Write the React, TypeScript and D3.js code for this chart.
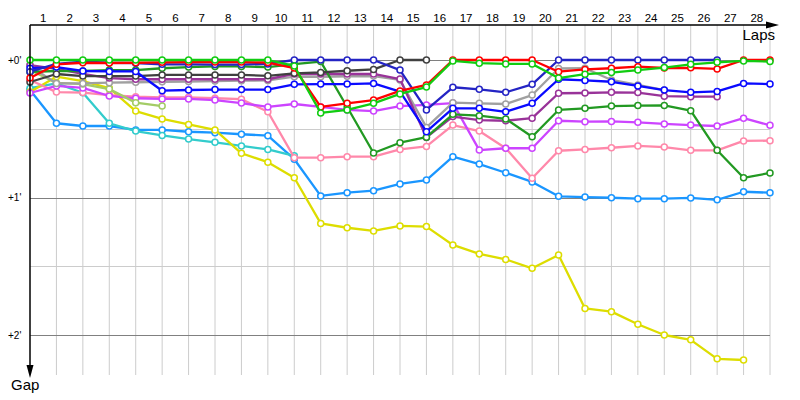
import React from 'react';
import * as d3 from 'd3';

// Lap tick labels (top axis)
const lapLabels = [1, 2, 3, 4, 5, 6, 7, 8, 9, 10, 11, 12, 13, 14, 15, 16, 17, 18, 19, 20, 21, 22, 23, 24, 25, 26, 27, 28];
// Gap axis ticks (minutes)
const gapTickMinutes = [0, 1, 2];
const gapTickLabels = ["+0'", "+1'", "+2'"];
// Horizontal grid lines (seconds)
const gridSeconds = [0, 30, 60, 90, 120];

// Gap to leader in seconds, index = lap (0 = start)
const azureGaps = [13.1, 27.6, 28.8, 28.8, 30.5, 30.5, 31.3, 31.7, 32.4, 33.0, 43.3, 59.3, 57.9, 57.0, 54.1, 52.4, 42.2, 45.4, 49.2, 53.2, 59.5, 59.8, 60.1, 60.5, 60.5, 60.2, 61.0, 57.5, 57.9];
const cyanGaps = [12.3, 10.2, 14.3, 27.6, 31.0, 32.9, 34.5, 35.9, 37.5, 39.0, 41.8];
const yellowGaps = [14.0, 7.3, 9.2, 12.3, 22.3, 25.7, 28.1, 30.5, 40.7, 44.6, 51.4, 71.3, 73.2, 74.6, 72.4, 72.7, 80.7, 84.6, 87.0, 90.9, 85.1, 108.4, 109.8, 115.3, 120.0, 122.1, 130.4, 130.9];
const pinkGaps = [8.7, 14.0, 14.2, 15.3, 16.0, 16.3, 16.3, 16.7, 17.1, 22.6, 42.6, 42.6, 42.2, 42.2, 39.0, 37.7, 28.4, 31.0, 38.5, 51.6, 39.6, 39.0, 38.3, 37.5, 38.0, 39.4, 39.4, 35.3, 35.2];
const violetGaps = [14.4, 11.3, 12.2, 15.7, 16.7, 17.0, 17.0, 17.5, 18.8, 20.5, 19.2, 20.5, 21.8, 22.3, 20.1, 19.6, 18.8, 39.3, 38.5, 38.5, 26.5, 26.9, 26.8, 27.2, 27.9, 28.4, 28.8, 25.4, 28.5];
const lightGreenGaps = [4.4, 10.0, 10.5, 12.7, 18.6, 20.1];
const grayGaps = [2.6, 10.2, 10.2, 9.9, 9.7, 9.5, 9.4, 9.2, 9.0, 8.9, 7.3, 7.3, 7.1, 7.0, 8.7, 29.4, 18.6, 18.9, 19.2, 15.3, 3.7, 3.6, 8.7, 10.9, 13.1];
const purpleGaps = [2.2, 3.9, 6.1, 7.9, 8.4, 8.4, 8.4, 8.4, 8.4, 8.4, 6.1, 6.1, 6.1, 6.1, 8.3, 33.8, 24.7, 26.2, 26.5, 25.4, 14.5, 14.4, 14.1, 14.2, 15.8, 16.0, 16.0];
const darkGreenGaps = [5.2, 4.8, 4.8, 4.4, 4.4, 3.6, 3.1, 2.8, 2.8, 3.1, 1.8, 0.7, 20.5, 40.6, 36.1, 33.7, 23.7, 24.3, 25.7, 33.5, 21.8, 21.1, 20.1, 19.9, 19.8, 22.1, 39.4, 51.4, 49.3];
const blackGaps = [9.6, 6.1, 7.0, 7.0, 7.0, 6.5, 6.5, 6.5, 6.5, 6.9, 5.8, 5.4, 4.7, 4.1, 0, 0];
const blueGaps = [3.6, 3.1, 4.8, 5.0, 5.0, 13.4, 13.1, 12.9, 12.9, 12.9, 10.6, 10.5, 10.5, 10.2, 13.8, 31.3, 21.1, 21.1, 22.6, 18.9, 8.4, 8.9, 9.5, 11.3, 13.1, 14.1, 13.7, 10.2, 10.5];
const darkBlueGaps = [5.1, 1.7, 0.7, 1.2, 1.4, 1.9, 1.9, 2.0, 2.0, 1.7, 0, 0, 0, 0, 4.4, 21.8, 11.9, 12.8, 14.1, 10.6, 0, 0, 0, 0, 0, 0, 0];
const redGaps = [7.9, 1.9, 1.2, 1.3, 1.2, 1.0, 0.9, 0.9, 0.9, 1.1, 3.5, 20.5, 18.9, 17.5, 13.5, 10.9, 0, 0, 0, 0, 5.1, 4.1, 3.6, 2.9, 3.5, 3.4, 3.9, 0, 0];
const limeGaps = [0, 0, 0, 0, 0, 0, 0, 0, 0, 0, 2.6, 23.1, 21.8, 18.9, 14.8, 11.8, 0.4, 1.4, 1.7, 1.7, 7.9, 6.2, 5.5, 4.4, 3.3, 1.9, 1.0, 0.4, 0.7];

const seriesList = [
  { key: 'azure', color: '#1a96ff', values: azureGaps },
  { key: 'cyan', color: '#33cccc', values: cyanGaps },
  { key: 'yellow', color: '#dddd00', values: yellowGaps },
  { key: 'pink', color: '#ff88aa', values: pinkGaps },
  { key: 'violet', color: '#cc44ff', values: violetGaps },
  { key: 'lightgreen', color: '#a3cc66', values: lightGreenGaps },
  { key: 'gray', color: '#a0a0a0', values: grayGaps },
  { key: 'purple', color: '#993399', values: purpleGaps },
  { key: 'darkgreen', color: '#229922', values: darkGreenGaps },
  { key: 'black', color: '#404040', values: blackGaps },
  { key: 'blue', color: '#0a0aff', values: blueGaps },
  { key: 'darkblue', color: '#2424c4', values: darkBlueGaps },
  { key: 'red', color: '#ff0000', values: redGaps },
  { key: 'lime', color: '#11cc11', values: limeGaps },
];

const FONT = 'Liberation Sans, Arial, sans-serif';

export default function App() {
  const left = 30;
  const right = 770;
  const top = 25;
  const bottom = 375;
  const x = d3.scaleLinear().domain([0, 28]).range([left, right]);
  const y = d3.scaleLinear().domain([0, 60]).range([60, 197.5]);
  const line = d3
    .line<number>()
    .x((_, i) => x(i))
    .y((d) => y(d));

  return (
    <svg
      width={800}
      height={400}
      style={{ position: 'absolute', left: 0, top: 0, background: '#fff' }}
    >
      {/* vertical grid */}
      {lapLabels.map((l) => (
        <line key={'v' + l} x1={x(l)} x2={x(l)} y1={top} y2={bottom} stroke="#cccccc" strokeWidth={1} />
      ))}
      {/* horizontal grid */}
      {gridSeconds.map((s) => (
        <line
          key={'h' + s}
          x1={left}
          x2={right}
          y1={Math.round(y(s)) + 0.5}
          y2={Math.round(y(s)) + 0.5}
          stroke={s % 60 === 0 ? '#808080' : '#cccccc'}
          strokeWidth={1}
        />
      ))}
      {/* lap labels */}
      {lapLabels.map((l) => (
        <text key={'t' + l} x={x(l - 0.5)} y={21.5} textAnchor="middle" fontFamily={FONT} fontSize={11.5} fill="#000">
          {l}
        </text>
      ))}
      {/* gap labels */}
      {gapTickMinutes.map((m, i) => (
        <text key={'g' + m} x={8} y={y(m * 60) + 3.5} fontFamily={FONT} fontSize={10} fill="#000">
          {gapTickLabels[i]}
        </text>
      ))}
      {/* series */}
      {seriesList.map((s) => (
        <g key={s.key}>
          <path d={line(s.values) || ''} fill="none" stroke={s.color} strokeWidth={2.3} strokeLinejoin="round" />
          {s.values.map((v, i) => (
            <circle key={i} cx={x(i)} cy={y(v)} r={3} fill="#fff" stroke={s.color} strokeWidth={1.5} />
          ))}
        </g>
      ))}
      {/* axes */}
      <line x1={left} x2={768} y1={top} y2={top} stroke="#000" strokeWidth={1.5} />
      <polygon points={`779,${top} 766,${top - 3.5} 766,${top + 3.5}`} fill="#000" />
      <line x1={left} x2={left} y1={top} y2={366} stroke="#000" strokeWidth={1.5} />
      <polygon points={`${left},378 ${left - 3.5},365 ${left + 3.5},365`} fill="#000" />
      <text x={775} y={39.5} textAnchor="end" fontFamily={FONT} fontSize={15} fill="#000">
        Laps
      </text>
      <text x={11} y={390} fontFamily={FONT} fontSize={15} fill="#000">
        Gap
      </text>
    </svg>
  );
}
